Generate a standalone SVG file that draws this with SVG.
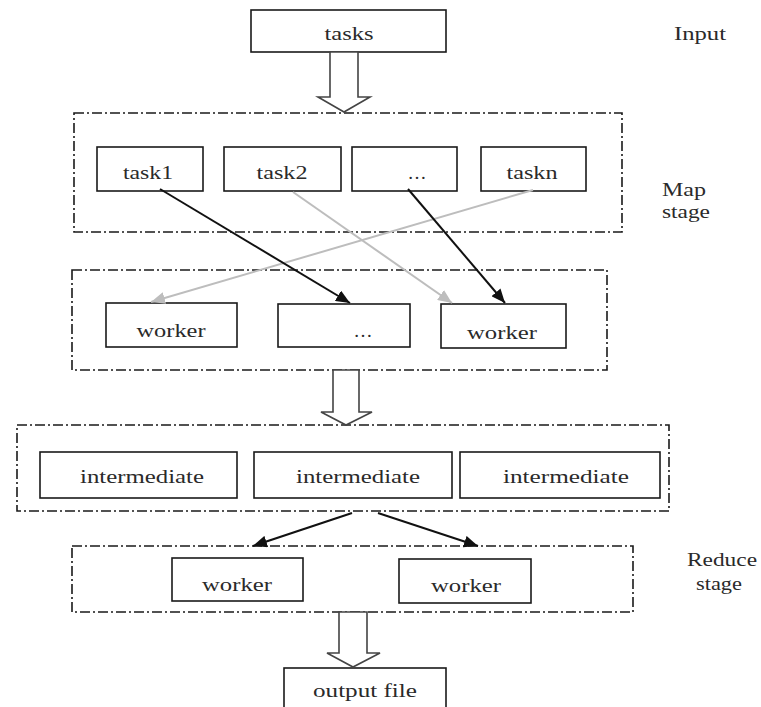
<svg xmlns="http://www.w3.org/2000/svg" width="761" height="707" viewBox="0 0 761 707" font-family="'Liberation Serif', 'DejaVu Serif', serif">
<defs>
<style>
.box{fill:#fff;stroke:#1a1a1a;stroke-width:1.6}
.grp{fill:none;stroke:#1a1a1a;stroke-width:1.6;stroke-dasharray:10 3 2 3}
text{font-family:'Liberation Serif','DejaVu Serif',serif;font-size:19px;fill:#2a2a2a;text-anchor:middle}
.hollow{fill:#fff;stroke:#444;stroke-width:1.6;stroke-linejoin:miter}
.blk{stroke:#111;stroke-width:2;fill:none}
.gry{stroke:#bdbdbd;stroke-width:2;fill:none}
</style>
<marker id="ab" markerUnits="userSpaceOnUse" markerWidth="15" markerHeight="12" refX="14" refY="6" orient="auto"><path d="M0,0 L14,6 L0,12 z" fill="#111"/></marker>
<marker id="ag" markerUnits="userSpaceOnUse" markerWidth="15" markerHeight="12" refX="14" refY="6" orient="auto"><path d="M0,0 L14,6 L0,12 z" fill="#bdbdbd"/></marker>
</defs>
<rect width="761" height="707" fill="#fff"/>

<g id="labels">
<text x="700" y="40" textLength="52" lengthAdjust="spacingAndGlyphs">Input</text>
<text x="684" y="196" textLength="44" lengthAdjust="spacingAndGlyphs">Map</text>
<text x="686" y="218" textLength="48" lengthAdjust="spacingAndGlyphs">stage</text>
<text x="722" y="566" textLength="70" lengthAdjust="spacingAndGlyphs">Reduce</text>
<text x="719" y="590" textLength="46" lengthAdjust="spacingAndGlyphs">stage</text>
</g>

<g id="map-stage"><rect class="grp" x="74" y="113" width="548" height="119"/></g>
<g id="worker-stage"><rect class="grp" x="72" y="270" width="535" height="100"/></g>
<g id="intermediate-stage"><rect class="grp" x="17" y="425" width="652" height="86"/></g>
<g id="reduce-stage"><rect class="grp" x="72" y="546" width="561" height="66"/></g>

<g id="tasks"><rect class="box" x="251" y="10" width="195" height="42"/><text x="349" y="40" textLength="49" lengthAdjust="spacingAndGlyphs">tasks</text></g>

<g id="task1"><rect class="box" x="97" y="147" width="106" height="44"/><text x="148" y="179" textLength="50" lengthAdjust="spacingAndGlyphs">task1</text></g>
<g id="task2"><rect class="box" x="224" y="147" width="117" height="44"/><text x="282" y="179" textLength="51" lengthAdjust="spacingAndGlyphs">task2</text></g>
<g id="task-more"><rect class="box" x="352" y="147" width="105" height="44"/><text x="417" y="179">…</text></g>
<g id="taskn"><rect class="box" x="481" y="147" width="105" height="44"/><text x="532" y="179" textLength="51" lengthAdjust="spacingAndGlyphs">taskn</text></g>

<g id="map-worker1"><rect class="box" x="106" y="303" width="131" height="44"/><text x="171" y="337" textLength="69" lengthAdjust="spacingAndGlyphs">worker</text></g>
<g id="map-worker-more"><rect class="box" x="278" y="304" width="132" height="43"/><text x="363" y="337">…</text></g>
<g id="map-worker2"><rect class="box" x="441" y="304" width="125" height="44"/><text x="502" y="339" textLength="70" lengthAdjust="spacingAndGlyphs">worker</text></g>

<g id="intermediate1"><rect class="box" x="40" y="452" width="197" height="46"/><text x="142" y="483" textLength="124" lengthAdjust="spacingAndGlyphs">intermediate</text></g>
<g id="intermediate2"><rect class="box" x="254" y="452" width="198" height="46"/><text x="358" y="483" textLength="124" lengthAdjust="spacingAndGlyphs">intermediate</text></g>
<g id="intermediate3"><rect class="box" x="460" y="452" width="200" height="46"/><text x="566" y="483" textLength="126" lengthAdjust="spacingAndGlyphs">intermediate</text></g>

<g id="reduce-worker1"><rect class="box" x="172" y="558" width="131" height="43"/><text x="237" y="591" textLength="70" lengthAdjust="spacingAndGlyphs">worker</text></g>
<g id="reduce-worker2"><rect class="box" x="399" y="559" width="132" height="44"/><text x="466" y="592" textLength="70" lengthAdjust="spacingAndGlyphs">worker</text></g>

<g id="output-file"><rect class="box" x="284" y="668" width="162" height="50"/><text x="365" y="697" textLength="104" lengthAdjust="spacingAndGlyphs">output file</text></g>

<g id="connectors">
<polygon class="hollow" points="330,52 358,52 358,97 370,97 344,112 318,97 330,97"/>
<polygon class="hollow" points="333,370 359,370 359,412 372,412 346,425 321,412 333,412"/>
<polygon class="hollow" points="339,612 367,612 367,653 380,653 353,667 327,653 339,653"/>
<line class="gry" x1="533" y1="190" x2="151" y2="302" marker-end="url(#ag)"/>
<line class="gry" x1="293" y1="192" x2="452" y2="303" marker-end="url(#ag)"/>
<line class="blk" x1="160" y1="189" x2="350" y2="303" marker-end="url(#ab)"/>
<line class="blk" x1="408" y1="189" x2="505" y2="303" marker-end="url(#ab)"/>
<line class="blk" x1="352" y1="513" x2="253" y2="546" marker-end="url(#ab)"/>
<line class="blk" x1="378" y1="513" x2="478" y2="546" marker-end="url(#ab)"/>
</g>
</svg>
